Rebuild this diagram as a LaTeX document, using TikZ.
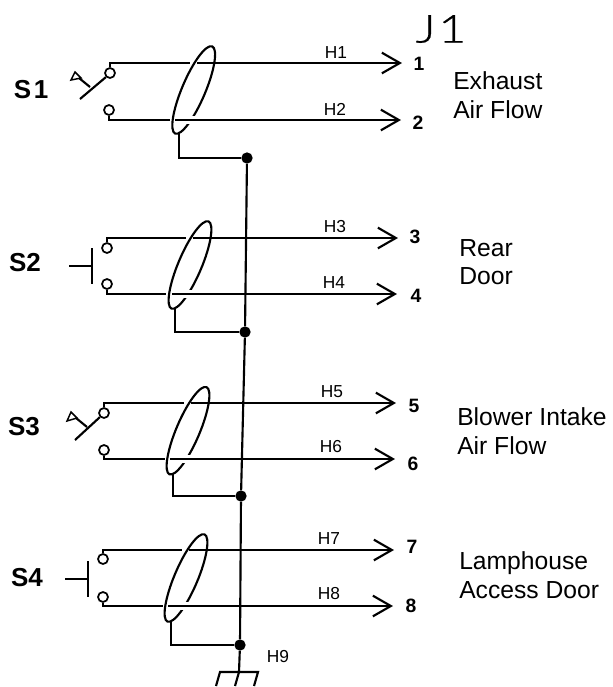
\documentclass[tikz,border=0pt]{standalone}
\usepackage{fontspec}
\setmainfont{Liberation Sans}
\newfontfamily\thinfont[FakeBold=0.6,FakeStretch=1.25]{Lato Light}
\usetikzlibrary {arrows.meta,shapes.geometric}
\tikzset{
  wire/.style= {draw= black, line width= 1.6pt},
  tiparrow/.style= {wire, -{Straight Barb[length= 13.5pt,width= 15.5pt]}},
  halo/.style= {draw= white, line width= 6pt},
  shield/.style= {ellipse, draw, line width= 1.6pt, inner sep= 0pt, outer sep= 0pt,
    minimum width= 71pt, minimum height= 17.5pt, rotate= 67},
  contact/.style= {circle, draw, line width= 1.3pt, inner sep= 0pt, minimum size= 7.5pt},
  junction/.style= {circle, fill, inner sep= 0pt, minimum size= 8.5pt},
  hlabel/.style= {font= \fontsize{13}{15}\selectfont},
  pinlabel/.style= {font= \fontsize{14.5}{16}\selectfont\bfseries},
  swlabel/.style= {font= \fontsize{19.5}{22}\selectfont\bfseries},
  desc/.style= {font= \fontsize{18.5}{21.5}\selectfont, align= left, anchor= west, inner sep= 0pt}
}
\begin{document}
\begin{tikzpicture}[x= 0.75pt, y= -0.75pt]
      \useasboundingbox (0,0) rectangle (612,687);
      \begin{scope}[every node/.style={junction}]
        \node (J1) at (247,158) {};
        \node (J2) at (245,332) {};
        \node (J3) at (241,496) {};
        \node (J4) at (240,645) {};
      \end{scope}
      \begin{scope}[every node/.style={shield}]
        \node (SH1) at (193.7,90) {};
        \node (SH2) at (190,265) {};
        \node (SH3) at (188,430.7) {};
        \node (SH4) at (186,578) {};
      \end{scope}
      \begin{scope}[every node/.style={contact}]
        \node (C1) at (110,73) {};
        \node (C2) at (109,110) {};
        \node (C3) at (107,248) {};
        \node (C4) at (107,284) {};
        \node (C5) at (104,413) {};
        \node (C6) at (104,450) {};
        \node (C7) at (103,559) {};
        \node (C8) at (103,597) {};
      \end{scope}
      \begin{scope}[every node/.style={hlabel}]
        \node (H1) at (336,53) {H1};
        \node (H2) at (335,109) {H2};
        \node (H3) at (335,227) {H3};
        \node (H4) at (334,283) {H4};
        \node (H5) at (332,392) {H5};
        \node (H6) at (331,447) {H6};
        \node (H7) at (329,539) {H7};
        \node (H8) at (329,594) {H8};
        \node (H9) at (278,657) {H9};
      \end{scope}
      \begin{scope}[every node/.style={pinlabel}]
        \node (P1) at (419,64) {1};
        \node (P2) at (418,123) {2};
        \node (P3) at (415,237) {3};
        \node (P4) at (416,296) {4};
        \node (P5) at (414,406) {5};
        \node (P6) at (413,464) {6};
        \node (P7) at (412,547) {7};
        \node (P8) at (411,606) {8};
      \end{scope}
      \begin{scope}[every node/.style={swlabel}]
        \node (S1) at (31,90) {S\kern2pt 1};
        \node (S2) at (25,263) {S2};
        \node (S3) at (24,427) {S3};
        \node (S4) at (27,578) {S4};
      \end{scope}
      \begin{scope}[every node/.style={desc}]
        \node (D1) at (453,95) {Exhaust\\Air Flow};
        \node (D2) at (459,262) {Rear\\Door};
        \node (D3) at (457,431) {Blower Intake\\Air Flow};
        \node (D4) at (459,575) {Lamphouse\\Access Door};
      \end{scope}
      \node (J) [font=\fontsize{29}{32}\selectfont\thinfont] at (441,29) {J\kern2pt 1};
      \coordinate (E1) at (402,63);
      \coordinate (E2) at (401,120);
      \coordinate (E3) at (398,238);
      \coordinate (E4) at (397,294);
      \coordinate (E5) at (396,403);
      \coordinate (E6) at (395,459);
      \coordinate (E7) at (394,550);
      \coordinate (E8) at (393,606);
      \begin{scope}[every path/.style={halo}]
        \path (186,120) -- (200,120);
        \path (183,294) -- (197,294);
        \path (181,459) -- (195,459);
        \path (179,606) -- (193,606);
      \end{scope}
      \begin{scope}[every path/.style={wire}]
        \path (C1.north) |- (190,63);
        \path (C2.south) |- (170,120);
        \path (C3.north) |- (186,238);
        \path (C4.south) |- (166,294);
        \path (C5.north) |- (184,403);
        \path (C6.south) |- (165,459);
        \path (C7.north) |- (182,550);
        \path (C8.south) |- (163,606);
        \path (SH1.184) |- (J1);
        \path (SH2.184) |- (J2);
        \path (SH3.184) |- (J3);
        \path (SH4.184) |- (J4);
        \path (J1) -- (J2) -- (J3) -- (J4) -- (239,672);
        \path (216,686) -- (220,672) -- (258,672) -- (254,686);
        \path (235,686) -- (239,672);
        \path (80,99) -- (C1.225);
        \path (90,87) -- (79,78);
        \path (C5.225) -- (75,440);
        \path (87,427) -- (76,418);
        \path (69,266) -- (92,266);
        \path (92,248) -- (92,284);
        \path (65,579) -- (88,579);
        \path (88,561) -- (88,597);
      \end{scope}
      \begin{scope}[line width= 1.1pt]
        \draw (71,80) -- (75,72) -- (81,78) -- cycle;
        \draw (67,421) -- (71,412) -- (77,418) -- cycle;
      \end{scope}
      \begin{scope}[every path/.style={tiparrow}]
        \path (197,63) -- (E1);
        \path (175,120) -- (E2);
        \path (193,238) -- (E3);
        \path (172,294) -- (E4);
        \path (191,403) -- (E5);
        \path (170,459) -- (E6);
        \path (189,550) -- (E7);
        \path (168,606) -- (E8);
      \end{scope}
    \end{tikzpicture}
\end{document}
